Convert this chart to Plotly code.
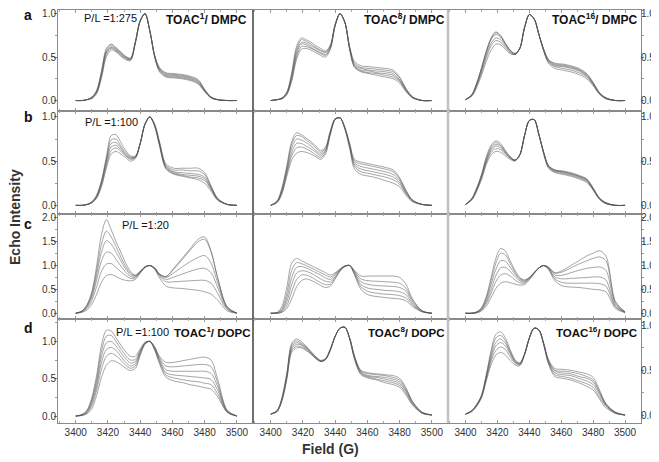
import plotly.graph_objects as go

# ---------------- data ----------------
field = [3400, 3404, 3407, 3410, 3413, 3416, 3419, 3422, 3425, 3428, 3431, 3434, 3437, 3440,
         3443, 3446, 3449, 3452, 3456, 3461, 3466, 3471, 3476, 3480, 3484, 3488, 3494, 3500]

x_tick_vals = [3400, 3420, 3440, 3460, 3480, 3500]

row_labels = ["a", "b", "c", "d"]
pl_labels = ["P/L =1:275", "P/L =1:100", "P/L =1:20", "P/L =1:100"]
panel_titles_top = ["TOAC<sup>1</sup>/ DMPC", "TOAC<sup>8</sup>/ DMPC", "TOAC<sup>16</sup>/ DMPC"]
panel_titles_bottom = ["TOAC<sup>1</sup>/ DOPC", "TOAC<sup>8</sup>/ DOPC", "TOAC<sup>16</sup>/ DOPC"]

# row a : P/L 1:275 in DMPC
a_toac1 = [
    [0, 0, 0.01, 0.04, 0.12, 0.34, 0.60, 0.65, 0.61, 0.56, 0.51, 0.49, 0.68, 0.92, 1.0, 0.80, 0.52, 0.38, 0.32, 0.31, 0.30, 0.28, 0.24, 0.13, 0.04, 0.01, 0, 0],
    [0, 0, 0.01, 0.04, 0.11, 0.33, 0.58, 0.64, 0.60, 0.55, 0.50, 0.48, 0.68, 0.92, 1.0, 0.80, 0.52, 0.37, 0.31, 0.30, 0.29, 0.27, 0.23, 0.12, 0.04, 0.01, 0, 0],
    [0, 0, 0.01, 0.03, 0.10, 0.31, 0.56, 0.62, 0.59, 0.54, 0.50, 0.48, 0.67, 0.92, 1.0, 0.80, 0.51, 0.36, 0.30, 0.29, 0.28, 0.26, 0.22, 0.12, 0.04, 0.01, 0, 0],
    [0, 0, 0.01, 0.03, 0.10, 0.30, 0.55, 0.61, 0.58, 0.53, 0.49, 0.47, 0.67, 0.92, 1.0, 0.80, 0.51, 0.35, 0.29, 0.28, 0.27, 0.25, 0.21, 0.11, 0.03, 0.01, 0, 0],
    [0, 0, 0.01, 0.03, 0.09, 0.28, 0.53, 0.60, 0.57, 0.52, 0.48, 0.47, 0.66, 0.91, 1.0, 0.80, 0.50, 0.34, 0.28, 0.27, 0.26, 0.24, 0.20, 0.11, 0.03, 0.01, 0, 0],
    [0, 0, 0.01, 0.02, 0.08, 0.26, 0.50, 0.58, 0.56, 0.51, 0.47, 0.46, 0.66, 0.91, 1.0, 0.80, 0.50, 0.33, 0.27, 0.26, 0.25, 0.23, 0.19, 0.10, 0.03, 0.01, 0, 0],
]
a_toac8 = [
    [0, 0.01, 0.03, 0.10, 0.32, 0.62, 0.72, 0.70, 0.67, 0.63, 0.60, 0.57, 0.64, 0.88, 1.0, 0.90, 0.62, 0.45, 0.40, 0.39, 0.38, 0.37, 0.35, 0.27, 0.14, 0.04, 0, 0],
    [0, 0.01, 0.03, 0.09, 0.30, 0.59, 0.70, 0.68, 0.65, 0.61, 0.58, 0.56, 0.63, 0.88, 1.0, 0.90, 0.61, 0.43, 0.38, 0.37, 0.36, 0.35, 0.33, 0.26, 0.13, 0.04, 0, 0],
    [0, 0.01, 0.03, 0.09, 0.28, 0.56, 0.67, 0.66, 0.63, 0.60, 0.57, 0.55, 0.62, 0.87, 1.0, 0.90, 0.60, 0.41, 0.37, 0.35, 0.34, 0.33, 0.31, 0.24, 0.12, 0.04, 0, 0],
    [0, 0.01, 0.02, 0.08, 0.26, 0.53, 0.65, 0.64, 0.61, 0.58, 0.55, 0.53, 0.61, 0.87, 1.0, 0.90, 0.60, 0.40, 0.35, 0.34, 0.32, 0.31, 0.29, 0.23, 0.12, 0.04, 0, 0],
    [0, 0.01, 0.02, 0.07, 0.24, 0.50, 0.62, 0.62, 0.60, 0.57, 0.54, 0.52, 0.60, 0.86, 1.0, 0.90, 0.59, 0.39, 0.34, 0.32, 0.31, 0.29, 0.27, 0.22, 0.11, 0.03, 0, 0],
    [0, 0.01, 0.02, 0.07, 0.22, 0.47, 0.59, 0.60, 0.58, 0.55, 0.52, 0.50, 0.59, 0.86, 1.0, 0.90, 0.58, 0.38, 0.33, 0.31, 0.29, 0.27, 0.25, 0.20, 0.10, 0.03, 0, 0],
]
a_toac16 = [
    [0.01, 0.07, 0.20, 0.38, 0.57, 0.72, 0.79, 0.75, 0.66, 0.58, 0.54, 0.60, 0.84, 0.99, 0.94, 0.76, 0.59, 0.47, 0.43, 0.42, 0.40, 0.37, 0.31, 0.21, 0.09, 0.03, 0, 0],
    [0.01, 0.07, 0.20, 0.37, 0.56, 0.71, 0.78, 0.74, 0.65, 0.58, 0.54, 0.60, 0.84, 0.99, 0.94, 0.76, 0.59, 0.47, 0.42, 0.41, 0.39, 0.36, 0.30, 0.20, 0.09, 0.03, 0, 0],
    [0.01, 0.06, 0.19, 0.36, 0.55, 0.70, 0.76, 0.73, 0.65, 0.57, 0.54, 0.60, 0.84, 0.99, 0.94, 0.76, 0.58, 0.46, 0.41, 0.40, 0.38, 0.35, 0.29, 0.20, 0.08, 0.03, 0, 0],
    [0.01, 0.06, 0.18, 0.34, 0.52, 0.66, 0.72, 0.70, 0.63, 0.56, 0.53, 0.60, 0.84, 0.99, 0.94, 0.76, 0.58, 0.45, 0.40, 0.39, 0.37, 0.34, 0.28, 0.19, 0.08, 0.03, 0, 0],
    [0.01, 0.06, 0.17, 0.32, 0.49, 0.63, 0.69, 0.67, 0.61, 0.55, 0.53, 0.60, 0.84, 0.99, 0.94, 0.76, 0.57, 0.44, 0.39, 0.37, 0.35, 0.32, 0.27, 0.18, 0.08, 0.02, 0, 0],
    [0.01, 0.05, 0.15, 0.29, 0.45, 0.58, 0.65, 0.64, 0.59, 0.54, 0.53, 0.60, 0.84, 0.99, 0.94, 0.76, 0.57, 0.43, 0.37, 0.35, 0.33, 0.30, 0.25, 0.17, 0.07, 0.02, 0, 0],
]

# row b : P/L 1:100 in DMPC
b_toac1 = [
    [0, 0, 0.01, 0.04, 0.12, 0.28, 0.55, 0.79, 0.80, 0.71, 0.62, 0.56, 0.56, 0.70, 0.92, 1.0, 0.92, 0.72, 0.47, 0.42, 0.42, 0.42, 0.42, 0.37, 0.22, 0.08, 0.01, 0],
    [0, 0, 0.01, 0.04, 0.11, 0.27, 0.52, 0.74, 0.75, 0.67, 0.60, 0.55, 0.55, 0.70, 0.92, 1.0, 0.91, 0.71, 0.45, 0.40, 0.40, 0.39, 0.39, 0.35, 0.21, 0.08, 0.01, 0],
    [0, 0, 0.01, 0.03, 0.10, 0.26, 0.50, 0.70, 0.71, 0.65, 0.58, 0.54, 0.55, 0.70, 0.92, 1.0, 0.91, 0.70, 0.44, 0.38, 0.37, 0.36, 0.35, 0.32, 0.20, 0.07, 0.01, 0],
    [0, 0, 0.01, 0.03, 0.10, 0.25, 0.48, 0.66, 0.68, 0.63, 0.57, 0.53, 0.54, 0.70, 0.92, 1.0, 0.90, 0.69, 0.43, 0.37, 0.35, 0.34, 0.33, 0.30, 0.19, 0.07, 0.01, 0],
    [0, 0, 0.01, 0.03, 0.09, 0.23, 0.45, 0.62, 0.65, 0.61, 0.56, 0.52, 0.54, 0.70, 0.92, 1.0, 0.90, 0.68, 0.42, 0.36, 0.34, 0.32, 0.31, 0.28, 0.18, 0.06, 0.01, 0],
    [0, 0, 0.01, 0.03, 0.08, 0.21, 0.42, 0.58, 0.61, 0.58, 0.54, 0.50, 0.53, 0.70, 0.92, 1.0, 0.89, 0.67, 0.41, 0.35, 0.33, 0.31, 0.29, 0.25, 0.16, 0.06, 0.01, 0],
]
b_toac8 = [
    [0, 0.05, 0.20, 0.45, 0.72, 0.82, 0.80, 0.76, 0.72, 0.67, 0.62, 0.66, 0.84, 0.98, 0.99, 0.88, 0.70, 0.52, 0.49, 0.47, 0.45, 0.43, 0.40, 0.31, 0.17, 0.06, 0.01, 0],
    [0, 0.05, 0.19, 0.43, 0.69, 0.79, 0.78, 0.74, 0.70, 0.65, 0.60, 0.65, 0.84, 0.98, 0.99, 0.88, 0.69, 0.50, 0.47, 0.45, 0.43, 0.41, 0.38, 0.30, 0.16, 0.06, 0.01, 0],
    [0, 0.04, 0.17, 0.40, 0.65, 0.75, 0.74, 0.71, 0.67, 0.62, 0.58, 0.63, 0.83, 0.98, 0.99, 0.88, 0.68, 0.48, 0.44, 0.42, 0.40, 0.38, 0.35, 0.28, 0.15, 0.05, 0.01, 0],
    [0, 0.04, 0.16, 0.38, 0.60, 0.70, 0.70, 0.67, 0.64, 0.60, 0.56, 0.62, 0.82, 0.97, 0.99, 0.87, 0.67, 0.46, 0.41, 0.39, 0.37, 0.35, 0.32, 0.26, 0.14, 0.05, 0.01, 0],
    [0, 0.04, 0.15, 0.36, 0.56, 0.65, 0.66, 0.64, 0.61, 0.57, 0.54, 0.60, 0.81, 0.97, 0.99, 0.87, 0.66, 0.44, 0.38, 0.36, 0.34, 0.32, 0.29, 0.24, 0.13, 0.05, 0.01, 0],
    [0, 0.03, 0.13, 0.33, 0.51, 0.59, 0.61, 0.60, 0.58, 0.55, 0.52, 0.58, 0.80, 0.97, 0.99, 0.86, 0.64, 0.41, 0.35, 0.33, 0.31, 0.28, 0.25, 0.21, 0.11, 0.04, 0.01, 0],
]
b_toac16 = [
    [0.01, 0.08, 0.20, 0.35, 0.55, 0.68, 0.73, 0.70, 0.62, 0.55, 0.51, 0.57, 0.79, 0.96, 0.97, 0.80, 0.60, 0.45, 0.40, 0.39, 0.37, 0.34, 0.30, 0.20, 0.08, 0.03, 0, 0],
    [0.01, 0.08, 0.19, 0.34, 0.53, 0.66, 0.71, 0.68, 0.61, 0.55, 0.51, 0.57, 0.79, 0.96, 0.97, 0.80, 0.60, 0.45, 0.40, 0.38, 0.36, 0.33, 0.29, 0.19, 0.08, 0.03, 0, 0],
    [0.01, 0.07, 0.18, 0.33, 0.51, 0.64, 0.69, 0.67, 0.60, 0.54, 0.51, 0.57, 0.79, 0.96, 0.97, 0.80, 0.60, 0.44, 0.39, 0.38, 0.36, 0.33, 0.29, 0.19, 0.08, 0.03, 0, 0],
    [0.01, 0.07, 0.18, 0.32, 0.50, 0.62, 0.67, 0.65, 0.59, 0.54, 0.51, 0.57, 0.79, 0.96, 0.97, 0.80, 0.59, 0.44, 0.39, 0.37, 0.35, 0.32, 0.28, 0.18, 0.07, 0.02, 0, 0],
    [0.01, 0.07, 0.17, 0.31, 0.48, 0.60, 0.64, 0.63, 0.58, 0.53, 0.51, 0.57, 0.79, 0.96, 0.97, 0.80, 0.59, 0.43, 0.38, 0.36, 0.34, 0.31, 0.27, 0.18, 0.07, 0.02, 0, 0],
    [0.01, 0.06, 0.16, 0.29, 0.46, 0.57, 0.61, 0.60, 0.56, 0.52, 0.50, 0.57, 0.79, 0.96, 0.97, 0.80, 0.58, 0.42, 0.37, 0.35, 0.33, 0.30, 0.26, 0.17, 0.07, 0.02, 0, 0],
]

# row c : P/L 1:20 in DMPC
c_toac1 = [
    [0, 0.05, 0.18, 0.45, 1.00, 1.65, 1.96, 1.75, 1.50, 1.28, 1.05, 0.88, 0.80, 0.88, 0.97, 1.0, 0.95, 0.82, 0.77, 0.95, 1.15, 1.35, 1.55, 1.60, 1.30, 0.75, 0.13, 0],
    [0, 0.05, 0.17, 0.42, 0.90, 1.45, 1.72, 1.60, 1.40, 1.18, 0.98, 0.84, 0.79, 0.88, 0.97, 1.0, 0.95, 0.82, 0.77, 0.93, 1.12, 1.32, 1.50, 1.55, 1.28, 0.75, 0.13, 0],
    [0, 0.04, 0.15, 0.37, 0.80, 1.28, 1.52, 1.45, 1.28, 1.10, 0.93, 0.81, 0.78, 0.87, 0.97, 1.0, 0.94, 0.81, 0.75, 0.85, 0.97, 1.08, 1.17, 1.21, 1.05, 0.65, 0.12, 0],
    [0, 0.04, 0.13, 0.33, 0.70, 1.10, 1.28, 1.26, 1.13, 0.99, 0.86, 0.77, 0.76, 0.86, 0.97, 1.0, 0.94, 0.80, 0.71, 0.76, 0.82, 0.88, 0.93, 0.94, 0.85, 0.55, 0.10, 0],
    [0, 0.03, 0.10, 0.27, 0.56, 0.88, 1.03, 1.04, 0.96, 0.87, 0.79, 0.73, 0.74, 0.85, 0.96, 1.0, 0.93, 0.78, 0.66, 0.66, 0.67, 0.68, 0.69, 0.69, 0.63, 0.42, 0.08, 0],
    [0, 0.02, 0.07, 0.19, 0.40, 0.65, 0.79, 0.81, 0.77, 0.72, 0.69, 0.68, 0.71, 0.84, 0.96, 1.0, 0.92, 0.74, 0.57, 0.53, 0.52, 0.50, 0.48, 0.45, 0.40, 0.28, 0.05, 0],
]
c_toac8 = [
    [0, 0.02, 0.15, 0.55, 1.05, 1.15, 1.10, 1.05, 1.00, 0.95, 0.90, 0.85, 0.80, 0.85, 0.93, 0.99, 1.0, 0.90, 0.78, 0.78, 0.78, 0.78, 0.78, 0.75, 0.60, 0.30, 0.05, 0],
    [0, 0.01, 0.10, 0.42, 0.90, 1.06, 1.04, 1.00, 0.95, 0.90, 0.85, 0.80, 0.76, 0.83, 0.92, 0.99, 1.0, 0.88, 0.72, 0.68, 0.67, 0.66, 0.65, 0.63, 0.52, 0.27, 0.05, 0],
    [0, 0.01, 0.07, 0.32, 0.75, 0.96, 0.98, 0.95, 0.90, 0.85, 0.80, 0.74, 0.71, 0.80, 0.91, 0.99, 1.0, 0.86, 0.66, 0.60, 0.58, 0.57, 0.56, 0.54, 0.46, 0.24, 0.04, 0],
    [0, 0.01, 0.05, 0.24, 0.60, 0.84, 0.89, 0.88, 0.84, 0.78, 0.72, 0.67, 0.66, 0.77, 0.90, 0.98, 1.0, 0.84, 0.60, 0.52, 0.50, 0.48, 0.47, 0.45, 0.39, 0.20, 0.04, 0],
    [0, 0.00, 0.03, 0.16, 0.45, 0.70, 0.80, 0.80, 0.76, 0.70, 0.64, 0.60, 0.61, 0.74, 0.89, 0.98, 1.0, 0.82, 0.55, 0.45, 0.42, 0.40, 0.39, 0.37, 0.32, 0.17, 0.03, 0],
    [0, 0.00, 0.02, 0.10, 0.30, 0.55, 0.68, 0.72, 0.69, 0.64, 0.58, 0.54, 0.57, 0.72, 0.88, 0.98, 1.0, 0.80, 0.50, 0.38, 0.35, 0.33, 0.31, 0.30, 0.26, 0.14, 0.03, 0],
]
c_toac16 = [
    [0, 0, 0.03, 0.12, 0.35, 0.75, 1.15, 1.36, 1.30, 1.10, 0.90, 0.75, 0.70, 0.75, 0.85, 0.95, 1.0, 0.97, 0.85, 0.90, 1.00, 1.10, 1.20, 1.26, 1.31, 1.20, 0.25, 0.03],
    [0, 0, 0.03, 0.10, 0.32, 0.68, 1.05, 1.26, 1.22, 1.04, 0.86, 0.73, 0.69, 0.75, 0.85, 0.95, 1.0, 0.96, 0.84, 0.87, 0.95, 1.03, 1.10, 1.15, 1.18, 1.10, 0.22, 0.03],
    [0, 0, 0.02, 0.09, 0.28, 0.60, 0.92, 1.10, 1.09, 0.96, 0.82, 0.71, 0.67, 0.74, 0.85, 0.95, 1.0, 0.95, 0.80, 0.80, 0.85, 0.90, 0.94, 0.96, 0.97, 0.90, 0.19, 0.02],
    [0, 0, 0.02, 0.08, 0.24, 0.50, 0.79, 0.95, 0.96, 0.88, 0.77, 0.68, 0.65, 0.73, 0.85, 0.95, 1.0, 0.94, 0.76, 0.72, 0.73, 0.74, 0.75, 0.76, 0.76, 0.70, 0.15, 0.02],
    [0, 0, 0.01, 0.06, 0.20, 0.42, 0.66, 0.80, 0.83, 0.78, 0.70, 0.64, 0.63, 0.72, 0.84, 0.95, 1.0, 0.93, 0.72, 0.64, 0.63, 0.63, 0.63, 0.63, 0.62, 0.57, 0.13, 0.02],
    [0, 0, 0.01, 0.05, 0.15, 0.33, 0.52, 0.63, 0.66, 0.64, 0.61, 0.59, 0.60, 0.70, 0.83, 0.95, 1.0, 0.92, 0.68, 0.57, 0.55, 0.54, 0.52, 0.50, 0.49, 0.45, 0.10, 0.01],
]

# row d : P/L 1:100 in DOPC
d_toac1 = [
    [0, 0.02, 0.08, 0.25, 0.55, 0.95, 1.15, 1.14, 1.05, 0.95, 0.86, 0.80, 0.80, 0.90, 0.99, 1.0, 0.93, 0.80, 0.72, 0.72, 0.74, 0.76, 0.78, 0.79, 0.75, 0.50, 0.08, 0],
    [0, 0.02, 0.07, 0.22, 0.50, 0.87, 1.07, 1.08, 1.00, 0.90, 0.81, 0.75, 0.76, 0.88, 0.98, 1.0, 0.92, 0.78, 0.67, 0.66, 0.67, 0.68, 0.69, 0.69, 0.66, 0.45, 0.07, 0],
    [0, 0.02, 0.06, 0.20, 0.45, 0.80, 0.98, 1.00, 0.94, 0.85, 0.77, 0.71, 0.73, 0.86, 0.98, 1.0, 0.91, 0.76, 0.62, 0.60, 0.60, 0.60, 0.60, 0.60, 0.57, 0.40, 0.06, 0],
    [0, 0.01, 0.05, 0.17, 0.40, 0.72, 0.89, 0.92, 0.88, 0.80, 0.72, 0.67, 0.70, 0.85, 0.97, 1.0, 0.90, 0.74, 0.58, 0.55, 0.54, 0.53, 0.52, 0.51, 0.49, 0.35, 0.06, 0],
    [0, 0.01, 0.04, 0.14, 0.35, 0.63, 0.80, 0.84, 0.81, 0.75, 0.68, 0.64, 0.67, 0.83, 0.97, 1.0, 0.89, 0.72, 0.55, 0.51, 0.49, 0.47, 0.46, 0.44, 0.42, 0.30, 0.05, 0],
    [0, 0.01, 0.03, 0.10, 0.28, 0.52, 0.68, 0.74, 0.73, 0.69, 0.64, 0.61, 0.64, 0.81, 0.96, 1.0, 0.88, 0.70, 0.52, 0.47, 0.45, 0.42, 0.40, 0.38, 0.36, 0.26, 0.05, 0],
]
d_toac8 = [
    [0.01, 0.05, 0.20, 0.47, 0.80, 0.85, 0.82, 0.77, 0.71, 0.65, 0.61, 0.63, 0.74, 0.88, 0.97, 0.98, 0.86, 0.66, 0.50, 0.47, 0.46, 0.45, 0.44, 0.41, 0.30, 0.15, 0.03, 0],
    [0.01, 0.05, 0.19, 0.46, 0.78, 0.83, 0.80, 0.76, 0.70, 0.65, 0.61, 0.63, 0.74, 0.88, 0.97, 0.98, 0.86, 0.65, 0.49, 0.46, 0.45, 0.44, 0.42, 0.39, 0.29, 0.15, 0.03, 0],
    [0.01, 0.05, 0.18, 0.44, 0.76, 0.81, 0.79, 0.75, 0.70, 0.64, 0.60, 0.62, 0.73, 0.88, 0.97, 0.98, 0.86, 0.65, 0.48, 0.44, 0.43, 0.42, 0.40, 0.37, 0.27, 0.14, 0.03, 0],
    [0.01, 0.04, 0.17, 0.43, 0.74, 0.79, 0.78, 0.74, 0.69, 0.64, 0.60, 0.62, 0.73, 0.88, 0.97, 0.98, 0.85, 0.64, 0.47, 0.43, 0.42, 0.40, 0.38, 0.35, 0.26, 0.13, 0.02, 0],
    [0.01, 0.04, 0.17, 0.41, 0.72, 0.77, 0.76, 0.73, 0.68, 0.63, 0.60, 0.62, 0.73, 0.88, 0.97, 0.98, 0.85, 0.63, 0.46, 0.42, 0.40, 0.38, 0.36, 0.33, 0.24, 0.12, 0.02, 0],
    [0.01, 0.04, 0.16, 0.40, 0.70, 0.75, 0.75, 0.72, 0.68, 0.63, 0.60, 0.62, 0.72, 0.88, 0.97, 0.98, 0.85, 0.62, 0.45, 0.41, 0.39, 0.36, 0.34, 0.31, 0.22, 0.11, 0.02, 0],
]
d_toac16 = [
    [0.01, 0.05, 0.12, 0.22, 0.45, 0.72, 0.90, 0.93, 0.86, 0.73, 0.62, 0.58, 0.68, 0.86, 0.97, 0.95, 0.80, 0.62, 0.52, 0.51, 0.50, 0.48, 0.46, 0.42, 0.28, 0.13, 0.03, 0],
    [0.01, 0.05, 0.12, 0.22, 0.44, 0.69, 0.86, 0.89, 0.83, 0.71, 0.61, 0.58, 0.68, 0.86, 0.97, 0.95, 0.80, 0.61, 0.50, 0.49, 0.48, 0.46, 0.43, 0.39, 0.26, 0.12, 0.03, 0],
    [0.01, 0.05, 0.11, 0.21, 0.43, 0.66, 0.81, 0.85, 0.80, 0.70, 0.60, 0.57, 0.68, 0.86, 0.97, 0.95, 0.80, 0.60, 0.49, 0.47, 0.46, 0.43, 0.41, 0.37, 0.25, 0.12, 0.03, 0],
    [0.01, 0.05, 0.11, 0.21, 0.41, 0.63, 0.77, 0.81, 0.77, 0.68, 0.59, 0.57, 0.68, 0.86, 0.97, 0.95, 0.79, 0.59, 0.47, 0.45, 0.44, 0.41, 0.38, 0.34, 0.23, 0.11, 0.02, 0],
    [0.01, 0.04, 0.10, 0.20, 0.40, 0.60, 0.72, 0.76, 0.73, 0.65, 0.58, 0.56, 0.68, 0.86, 0.97, 0.95, 0.79, 0.58, 0.45, 0.43, 0.41, 0.38, 0.35, 0.31, 0.20, 0.10, 0.02, 0],
    [0.01, 0.04, 0.10, 0.19, 0.38, 0.56, 0.67, 0.70, 0.67, 0.61, 0.56, 0.55, 0.67, 0.86, 0.97, 0.95, 0.78, 0.57, 0.43, 0.41, 0.39, 0.36, 0.32, 0.28, 0.18, 0.08, 0.02, 0],
]

panels = [
    [a_toac1, a_toac8, a_toac16],
    [b_toac1, b_toac8, b_toac16],
    [c_toac1, c_toac8, c_toac16],
    [d_toac1, d_toac8, d_toac16],
]

# ---------------- layout geometry ----------------
# The page places the figure 8 px in from the top-left (browser body margin),
# so positions below are given in window pixels and converted.
PAGE_OFF = 8
WIN_W, WIN_H = 659, 462
L, R, T, B = 58, 641, 8, 423
col_px = [58, 253, 448, 641]
row_px = [8, 109, 213, 318, 423]

def px(x):
    return (x - L) / (R - L)

def py(y):
    return (B - y) / (B - T)

y_ranges = [
    [[-0.115, 1.042]] * 3,
    [[-0.098, 1.073]] * 3,
    [[-0.11, 2.08]] * 3,
    [[-0.093, 1.307], [-0.089, 1.078], [-0.089, 1.078]],
]
y_majors = [[0, 0.5, 1.0], [0, 0.5, 1.0], [0, 0.5, 1.0, 1.5, 2.0], [0, 0.5, 1.0]]

FONT = "Liberation Sans, Arial, sans-serif"
LINE_COL = "#8a8a8a"

fig = go.Figure()
layout = dict(
    width=WIN_W - PAGE_OFF, height=WIN_H - PAGE_OFF, autosize=False,
    margin=dict(l=L - PAGE_OFF, r=WIN_W - R, t=T - PAGE_OFF, b=WIN_H - B, pad=0),
    paper_bgcolor="white", plot_bgcolor="white",
    showlegend=False,
    font=dict(family=FONT, size=10, color="#333"),
)

for r in range(4):
    for c in range(3):
        idx = r * 3 + c + 1
        xa = "x" if idx == 1 else f"x{idx}"
        ya = "y" if idx == 1 else f"y{idx}"
        for curve in panels[r][c]:
            fig.add_trace(go.Scatter(
                x=field, y=curve, mode="lines", xaxis=xa, yaxis=ya,
                line=dict(color="rgba(85,85,85,0.62)", width=0.85, shape="spline", smoothing=0.9),
                hoverinfo="skip",
            ))
        xdom = [px(col_px[c]), px(col_px[c + 1])]
        ydom = [py(row_px[r + 1]), py(row_px[r])]
        layout["xaxis" if idx == 1 else f"xaxis{idx}"] = dict(
            domain=xdom, anchor=ya, range=[3389, 3510],
            showgrid=False, zeroline=False,
            showline=True, mirror="ticks", linecolor=LINE_COL, linewidth=1,
            ticks="inside", ticklen=3, tickcolor="#999", tickwidth=1,
            tickvals=x_tick_vals, ticktext=[str(v) for v in x_tick_vals],
            showticklabels=(r == 3),
            tickfont=dict(size=10, color="#333", family=FONT),
            minor=dict(ticks="inside", ticklen=2, tickcolor="#aaa", dtick=10, tick0=3400),
        )
        yax = dict(
            domain=ydom, anchor=xa, range=y_ranges[r][c],
            showgrid=False, zeroline=False,
            showline=True, mirror=True, linecolor=LINE_COL, linewidth=1,
            tickvals=y_majors[r], ticktext=[f"{v:.1f}" for v in y_majors[r]],
            tickfont=dict(size=10, color="#333", family=FONT),
        )
        if c == 0:
            yax.update(side="left", ticks="outside", ticklen=3, tickcolor="#777", showticklabels=True,
                       ticklabelstandoff=-4,
                       minor=dict(ticks="outside", ticklen=2, tickcolor="#999", dtick=0.25, tick0=0))
        elif c == 2:
            yax.update(side="right", ticks="outside", ticklen=2, tickcolor="#777", showticklabels=True,
                       ticklabelstandoff=-5,
                       minor=dict(ticks="outside", ticklen=2, tickcolor="#999", dtick=0.25, tick0=0))
        else:
            yax.update(ticks="", showticklabels=False)
        layout["yaxis" if idx == 1 else f"yaxis{idx}"] = yax

fig.update_layout(**layout)

# divider lines between columns
shapes = [
    dict(type="line", xref="paper", yref="paper", x0=px(253), x1=px(253), y0=0, y1=1,
         line=dict(color="#555", width=1)),
    dict(type="line", xref="paper", yref="paper", x0=px(448), x1=px(448), y0=0, y1=1,
         line=dict(color="#c2c2c2", width=2.5)),
]
fig.update_layout(shapes=shapes)

ann = []
for lab, yy in zip(row_labels, [13, 116, 223, 328]):
    ann.append(dict(text=f"<b>{lab}</b>", x=px(28), y=py(yy), xref="paper", yref="paper",
                    showarrow=False, xanchor="center", yanchor="middle",
                    font=dict(size=14, family=FONT, color="#111")))
for lab, (xx, yy) in zip(pl_labels, [(82, 16), (83, 121), (120, 224), (114, 332)]):
    ann.append(dict(text=lab, x=px(xx), y=py(yy), xref="paper", yref="paper",
                    showarrow=False, xanchor="left", yanchor="middle",
                    font=dict(size=11, family=FONT, color="#111")))
for lab, xx in zip(panel_titles_top, [249, 447, 639]):
    ann.append(dict(text=f"<b>{lab}</b>", x=px(xx), y=py(17), xref="paper", yref="paper",
                    showarrow=False, xanchor="right", yanchor="middle",
                    font=dict(size=12, family=FONT, color="#111")))
for lab, xx in zip(panel_titles_bottom, [252, 446, 639]):
    ann.append(dict(text=f"<b>{lab}</b>", x=px(xx), y=py(332), xref="paper", yref="paper",
                    showarrow=False, xanchor="right", yanchor="middle",
                    font=dict(size=11.5, family=FONT, color="#111")))
ann.append(dict(text="<b>Echo Intensity</b>", x=px(15), y=py(216), xref="paper", yref="paper",
                showarrow=False, xanchor="center", yanchor="middle", textangle=-90,
                font=dict(size=14, family=FONT, color="#333")))
ann.append(dict(text="<b>Field (G)</b>", x=px(330), y=py(449), xref="paper", yref="paper",
                showarrow=False, xanchor="center", yanchor="middle",
                font=dict(size=14, family=FONT, color="#333")))
fig.update_layout(annotations=ann)

fig.write_html("out.html")
